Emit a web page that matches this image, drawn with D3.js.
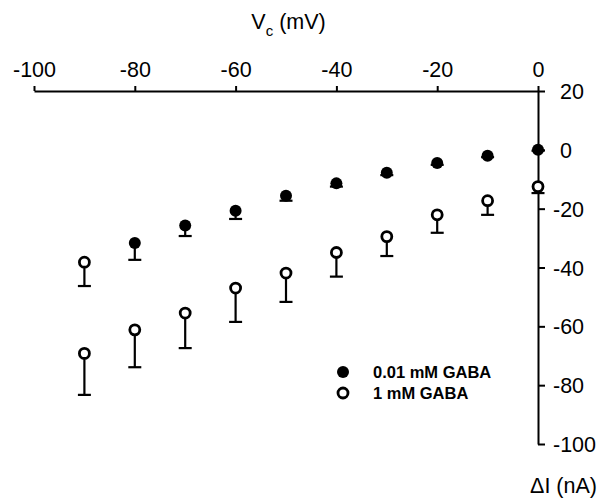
<!DOCTYPE html>
<html>
<head>
<meta charset="utf-8">
<script src="https://cdn.jsdelivr.net/npm/d3@7"></script>
<style>
  html, body { margin: 0; padding: 0; background: #fff; }
  svg { display: block; font-family: "Liberation Sans", Arial, sans-serif; }
</style>
</head>
<body>
<svg id="chart" width="602" height="501"></svg>
<script>
// ---- data ----
const voltages = [-90, -80, -70, -60, -50, -40, -30, -20, -10, 0];
// 0.01 mM GABA (mean, SE); the -90 mV point is drawn as an open marker in the source
const lowMean = [-38.2, -31.7, -25.7, -20.7, -15.6, -11.4, -7.8, -4.5, -2.0, 0];
const lowErr  = [8.1, 5.7, 3.6, 2.8, 1.7, 1.1, 0.8, 0.6, 0.5, 0.3];
// 1 mM GABA
const highMean = [-69.2, -61.2, -55.5, -47.0, -41.9, -34.9, -29.5, -22.1, -17.3, -12.5];
const highErr  = [14.1, 12.7, 11.9, 11.5, 9.8, 8.2, 6.6, 6.1, 4.8, 2.2];
const xTicks = [-100, -80, -60, -40, -20, 0];
const yTicks = [20, 0, -20, -40, -60, -80, -100];
const legendLabels = ["0.01 mM GABA", "1 mM GABA"];

const svg = d3.select("#chart");
const x = d3.scaleLinear().domain([-100, 0]).range([34, 538]);
const y = d3.scaleLinear().domain([20, -100]).range([91, 444]);
const fmt = d => String(d);
const FS = 21.5;

// top x axis
const xAxis = svg.append("g").attr("transform", `translate(0,${y(20)})`)
  .call(d3.axisTop(x).tickValues(xTicks).tickFormat(fmt).tickSize(5).tickSizeOuter(0).tickPadding(9));
xAxis.select(".domain").attr("stroke-width", 2);
xAxis.selectAll(".tick line").attr("stroke-width", 2);
xAxis.selectAll("text").attr("font-size", FS).attr("fill", "#000");

// right y axis
const yAxis = svg.append("g").attr("transform", `translate(${x(0)},0)`)
  .call(d3.axisRight(y).tickValues(yTicks).tickFormat(fmt).tickSize(7).tickSizeOuter(0));
yAxis.select(".domain").attr("stroke-width", 2);
yAxis.selectAll(".tick line").attr("stroke-width", 2);
yAxis.selectAll("text").attr("font-size", FS).attr("fill", "#000")
  .attr("text-anchor", "start").attr("x", d => d < 0 ? 15 : 22).attr("dy", "0.35em");

// axis titles
const t = svg.append("text").attr("x", x(-49.5)).attr("y", 29).attr("text-anchor", "middle")
  .attr("font-size", FS).attr("fill", "#000");
t.append("tspan").text("V");
t.append("tspan").attr("font-size", 15).attr("dy", 7).text("c");
t.append("tspan").attr("dy", -7).text(" (mV)");
svg.append("text").attr("x", 597).attr("y", 493).attr("text-anchor", "end")
  .attr("font-size", FS).attr("fill", "#000").text("ΔI (nA)");

// data series
function series(means, errs, filledFn) {
  const data = voltages.map((v, i) => ({v, m: means[i], e: errs[i], filled: filledFn(v)}));
  const g = svg.append("g");
  g.selectAll("line.bar").data(data).join("line")
    .attr("x1", d => x(d.v)).attr("x2", d => x(d.v))
    .attr("y1", d => y(d.m)).attr("y2", d => y(d.m - d.e))
    .attr("stroke", "#000").attr("stroke-width", 2.2);
  g.selectAll("line.cap").data(data).join("line")
    .attr("x1", d => x(d.v) - 6.5).attr("x2", d => x(d.v) + 6.5)
    .attr("y1", d => y(d.m - d.e)).attr("y2", d => y(d.m - d.e))
    .attr("stroke", "#000").attr("stroke-width", 2.2);
  g.selectAll("circle").data(data).join("circle")
    .attr("cx", d => x(d.v)).attr("cy", d => y(d.m))
    .attr("r", d => d.filled ? 6 : 5)
    .attr("fill", d => d.filled ? "#000" : "#fff")
    .attr("stroke", "#000").attr("stroke-width", d => d.filled ? 0 : 2.8);
}
series(highMean, highErr, () => false);
series(lowMean, lowErr, v => v !== -90);

// legend
const leg = svg.append("g");
legendLabels.forEach((lab, i) => {
  const cy = 372 + i * 21;
  leg.append("circle").attr("cx", 343).attr("cy", cy).attr("r", i === 0 ? 6 : 5)
    .attr("fill", i === 0 ? "#000" : "#fff").attr("stroke", "#000")
    .attr("stroke-width", i === 0 ? 0 : 2.8);
  leg.append("text").attr("x", 373).attr("y", cy + 5.5).attr("font-size", 16.5)
    .attr("font-weight", "bold").attr("fill", "#000").text(lab);
});
</script>
</body>
</html>
